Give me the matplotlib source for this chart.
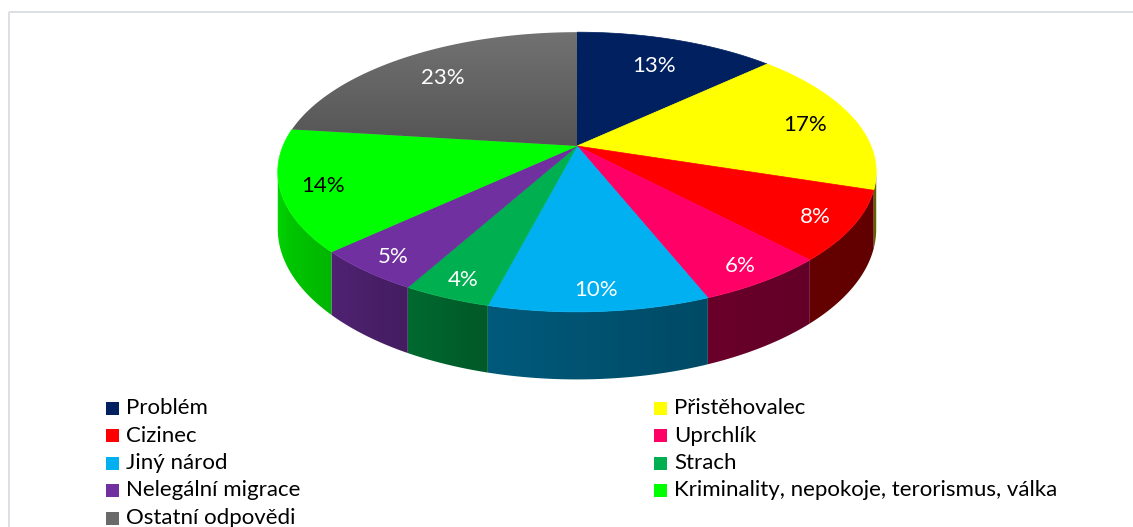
import matplotlib
matplotlib.use("Agg")
import matplotlib.pyplot as plt
from matplotlib.patches import Polygon, Rectangle
from matplotlib.colors import to_rgb
import numpy as np

# data
labels = ["Problém", "Přistěhovalec", "Cizinec", "Uprchlík", "Jiný národ",
          "Strach", "Nelegální migrace", "Kriminality, nepokoje, terorismus, válka",
          "Ostatní odpovědi"]
values = [13, 17, 8, 6, 10, 4, 5, 14, 23]
colors = ["#002060", "#FFFF00", "#FF0000", "#FF0066", "#00B0F0",
          "#00B050", "#7030A0", "#00FF00", "#6a6a6a"]
label_colors = ["white", "black", "white", "white", "white",
                "white", "white", "black", "white"]

plt.rcParams["font.family"] = ["Lato", "DejaVu Sans"]

W, H = 1133, 527
fig = plt.figure(figsize=(W / 100, H / 100), dpi=100)
ax = fig.add_axes([0, 0, 1, 1])

# 3D pie geometry (simple perspective)
CX, CY = 577, 146
A, B, K = 294, 135, 0.186
DEPTH = 55


def proj(r, theta, drop=0.0):
    u = r * np.sin(theta)
    v = r * np.cos(theta)
    w = 1 + K * v
    return CX + A * u / w, CY - B * v / w + drop / w


def shade(theta):
    u = np.sin(theta)
    return np.interp(u, [-1, -0.9, -0.7, -0.3, 0.5, 1],
                     [0.85, 0.78, 0.70, 0.52, 0.40, 0.38])


total = sum(values)
bounds = np.concatenate([[0], np.cumsum(values)]) / total * 2 * np.pi
t_sil = np.arccos(-K)

# front arc: x on screen -> angle, used for the wall gradients
front_t = np.linspace(t_sil, 2 * np.pi - t_sil, 2000)
front_x, _ = proj(1, front_t)
front_x, front_t = front_x[::-1], front_t[::-1]

# side walls (front facing part only)
for i, c in enumerate(colors):
    t0, t1 = max(bounds[i], t_sil), min(bounds[i + 1], 2 * np.pi - t_sil)
    if t1 <= t0:
        continue
    ts = np.linspace(t0, t1, 200)
    xt, yt = proj(1, ts)
    xb, yb = proj(1, ts, DEPTH)
    pts = np.column_stack([np.r_[xt, xb[::-1]], np.r_[yt, yb[::-1]]])
    poly = Polygon(pts, closed=True, facecolor="none", edgecolor="none", zorder=1)
    ax.add_patch(poly)
    x0, x1 = pts[:, 0].min() - 1, pts[:, 0].max() + 1
    y0, y1 = pts[:, 1].min() - 1, pts[:, 1].max() + 1
    gx = np.linspace(x0, x1, 300)
    gt = np.interp(gx, front_x, front_t)
    grad = (np.array(to_rgb(c))[None, :] * shade(gt)[:, None]).reshape(1, -1, 3)
    im = ax.imshow(grad, extent=(x0, x1, y1, y0), origin="upper",
                   aspect="auto", interpolation="bilinear", zorder=1)
    im.set_clip_path(poly)

# top faces
for i, c in enumerate(colors):
    ts = np.linspace(bounds[i], bounds[i + 1], 200)
    xs, ys = proj(1, ts)
    pts = np.column_stack([np.r_[CX, xs], np.r_[CY, ys]])
    if i == len(colors) - 1:
        poly = Polygon(pts, closed=True, facecolor="none", edgecolor="none", zorder=2)
        ax.add_patch(poly)
        grad = np.linspace(to_rgb("#727272"), to_rgb("#545454"), 256).reshape(256, 1, 3)
        im = ax.imshow(grad, extent=(xs.min() - 1, CX + 1, max(ys.max(), CY) + 2,
                                     ys.min() - 1),
                       origin="upper", aspect="auto", zorder=2)
        im.set_clip_path(poly)
    else:
        ax.add_patch(Polygon(pts, closed=True, facecolor=c, edgecolor=c,
                             lw=0.5, zorder=2))

# data labels
for i, v in enumerate(values):
    mid = (bounds[i] + bounds[i + 1]) / 2
    r = 0.80 - 0.08 * np.cos(mid) + 0.04 * abs(np.sin(mid))
    x, y = proj(r, mid)
    ax.text(x, y + 2, f"{v}%", color=label_colors[i], fontsize=16,
            ha="center", va="center", zorder=3)

# legend
for i, lab in enumerate(labels):
    row, col = i // 2, i % 2
    x = 106 if col == 0 else 654
    y = 408 + 27.5 * row
    ax.add_patch(Rectangle((x, y - 6.5), 13, 13, facecolor=colors[i],
                           edgecolor="none", zorder=3))
    ax.text(x + 20, y, lab, fontsize=16, ha="left", va="center", zorder=3)

# chart frame
ax.add_patch(Rectangle((8.5, 11.5), W, H, facecolor="none",
                       edgecolor="#d9dde3", lw=1.3, zorder=0))

ax.set_xlim(0, W)
ax.set_ylim(H, 0)
ax.axis("off")
fig.savefig("out.png", dpi=100)
